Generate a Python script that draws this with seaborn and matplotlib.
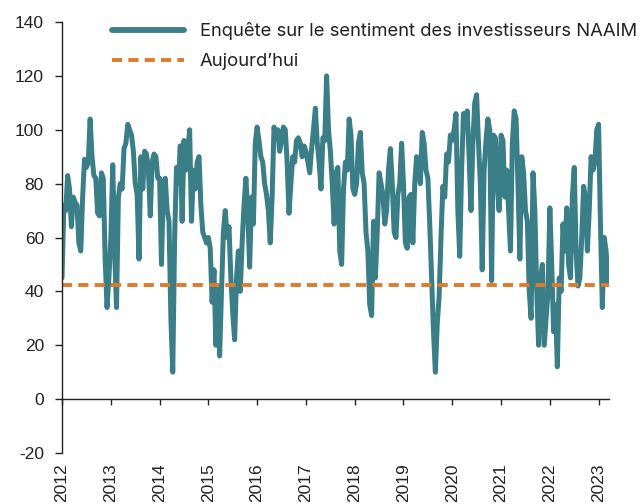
import matplotlib
matplotlib.use("Agg")
import matplotlib.pyplot as plt
import matplotlib.dates as mdates
import numpy as np
import pandas as pd
import seaborn as sns

# NAAIM exposure index (roughly every two weeks)
y2012 = [45, 72, 70, 83, 78, 64, 75, 73, 72, 58, 55, 75, 89, 86, 88, 104, 90, 83, 82, 69, 68, 84, 82, 52, 34, 45]
y2013 = [60, 87, 55, 34, 75, 80, 78, 93, 95, 102, 100, 98, 92, 80, 76, 52, 90, 78, 92, 91, 85, 68, 88, 91, 90, 82]
y2014 = [82, 50, 80, 82, 70, 66, 30, 10, 60, 86, 80, 94, 66, 96, 85, 92, 100, 66, 85, 78, 88, 90, 72, 62, 60, 58]
y2015 = [60, 56, 36, 48, 20, 42, 16, 40, 62, 70, 60, 64, 45, 32, 22, 45, 55, 40, 58, 72, 82, 70, 49, 75, 65, 95]
y2016 = [101, 96, 90, 88, 80, 76, 70, 58, 75, 101, 98, 100, 92, 96, 101, 100, 88, 69, 80, 90, 88, 96, 97, 95, 90, 94]
y2017 = [92, 88, 84, 93, 100, 108, 95, 88, 78, 97, 96, 120, 100, 92, 80, 65, 84, 86, 55, 50, 78, 88, 85, 104, 98, 78]
y2018 = [76, 80, 95, 99, 84, 80, 62, 55, 35, 31, 66, 45, 62, 84, 80, 76, 65, 70, 85, 93, 80, 62, 60, 76, 80, 95]
y2019 = [80, 58, 56, 75, 76, 58, 80, 90, 88, 80, 99, 95, 85, 82, 65, 45, 25, 10, 28, 38, 60, 79, 75, 91, 88, 98]
y2020 = [96, 100, 106, 70, 53, 85, 106, 102, 107, 90, 70, 95, 110, 113, 95, 80, 48, 85, 96, 104, 100, 44, 98, 97, 80, 70]
y2021 = [98, 96, 75, 85, 70, 55, 95, 107, 104, 80, 52, 90, 84, 70, 66, 40, 30, 84, 70, 40, 20, 45, 50, 20, 30, 40]
y2022 = [71, 50, 25, 35, 12, 45, 40, 65, 55, 71, 50, 45, 75, 86, 55, 42, 45, 60, 79, 75, 55, 70, 90, 85, 88, 100]
y2023 = [102, 65, 34, 60, 55, 43]

years = [2012, 2013, 2014, 2015, 2016, 2017, 2018, 2019, 2020, 2021, 2022, 2023]
series = [y2012, y2013, y2014, y2015, y2016, y2017, y2018, y2019, y2020, y2021, y2022, y2023]
today_level = 42.5

label_main = "Enquête sur le sentiment des investisseurs NAAIM"
label_today = "Aujourd’hui"

teal = "#3A7E88"
orange = "#E07A2C"

dates, vals = [], []
for yr, ser in zip(years, series):
    for k, v in enumerate(ser):
        dates.append(pd.Timestamp(f"{yr}-01-01") + pd.Timedelta(days=k * 365.25 / 26))
        vals.append(v)
df = pd.DataFrame({"date": dates, "naaim": vals})

sns.set_theme(style="white")
plt.rcParams["font.family"] = ["Liberation Sans", "DejaVu Sans"]
plt.rcParams["axes.unicode_minus"] = False

fig, ax = plt.subplots(figsize=(6.4, 5.04), dpi=100)
fig.subplots_adjust(left=62 / 640, right=609 / 640, bottom=1 - 453 / 504, top=1 - 22 / 504)

sns.lineplot(data=df, x="date", y="naaim", ax=ax, color=teal, linewidth=3.6,
             label=label_main, legend=False)
ax.axhline(today_level, color=orange, linewidth=2.8, linestyle=(0, (2.6, 1.6)), label=label_today)

ax.set_ylim(-20, 140)
ax.set_yticks(np.arange(-20, 141, 20))
ax.set_xlim(pd.Timestamp("2012-01-01"), pd.Timestamp("2023-03-20"))
ax.set_xticks([pd.Timestamp(f"{y}-01-01") for y in years])
ax.xaxis.set_major_formatter(mdates.DateFormatter("%Y"))

ax.set_xlabel("")
ax.set_ylabel("")
for s in ["top", "right"]:
    ax.spines[s].set_visible(False)
ax.spines["left"].set_color("#222222")
ax.spines["left"].set_linewidth(1.0)
ax.spines["bottom"].set_position(("data", 0))
ax.spines["bottom"].set_color("#222222")
ax.spines["bottom"].set_linewidth(1.0)

ax.tick_params(axis="y", which="major", left=True, direction="out", length=5, width=1,
               color="#222222", pad=8, labelsize=12.5, labelcolor="#222222")
ax.tick_params(axis="x", which="major", bottom=True, direction="out", length=4, width=1,
               color="#222222", pad=42, labelsize=12.5, labelcolor="#222222", labelrotation=90)
ax.grid(False)

leg = ax.legend(loc="upper left", bbox_to_anchor=(112 / 640, 1 - 22 / 504),
                bbox_transform=fig.transFigure, frameon=False,
                handlelength=3.9, handletextpad=0.85, labelspacing=0.72,
                borderpad=0, borderaxespad=0, prop={"family": "Inter", "size": 13.3})
for t in leg.get_texts():
    t.set_color("#222222")
for h in leg.get_lines():
    h.set_solid_capstyle("round")
    if h.get_linestyle() == "-":
        h.set_linewidth(4.2)

fig.savefig("out.png", dpi=100)
